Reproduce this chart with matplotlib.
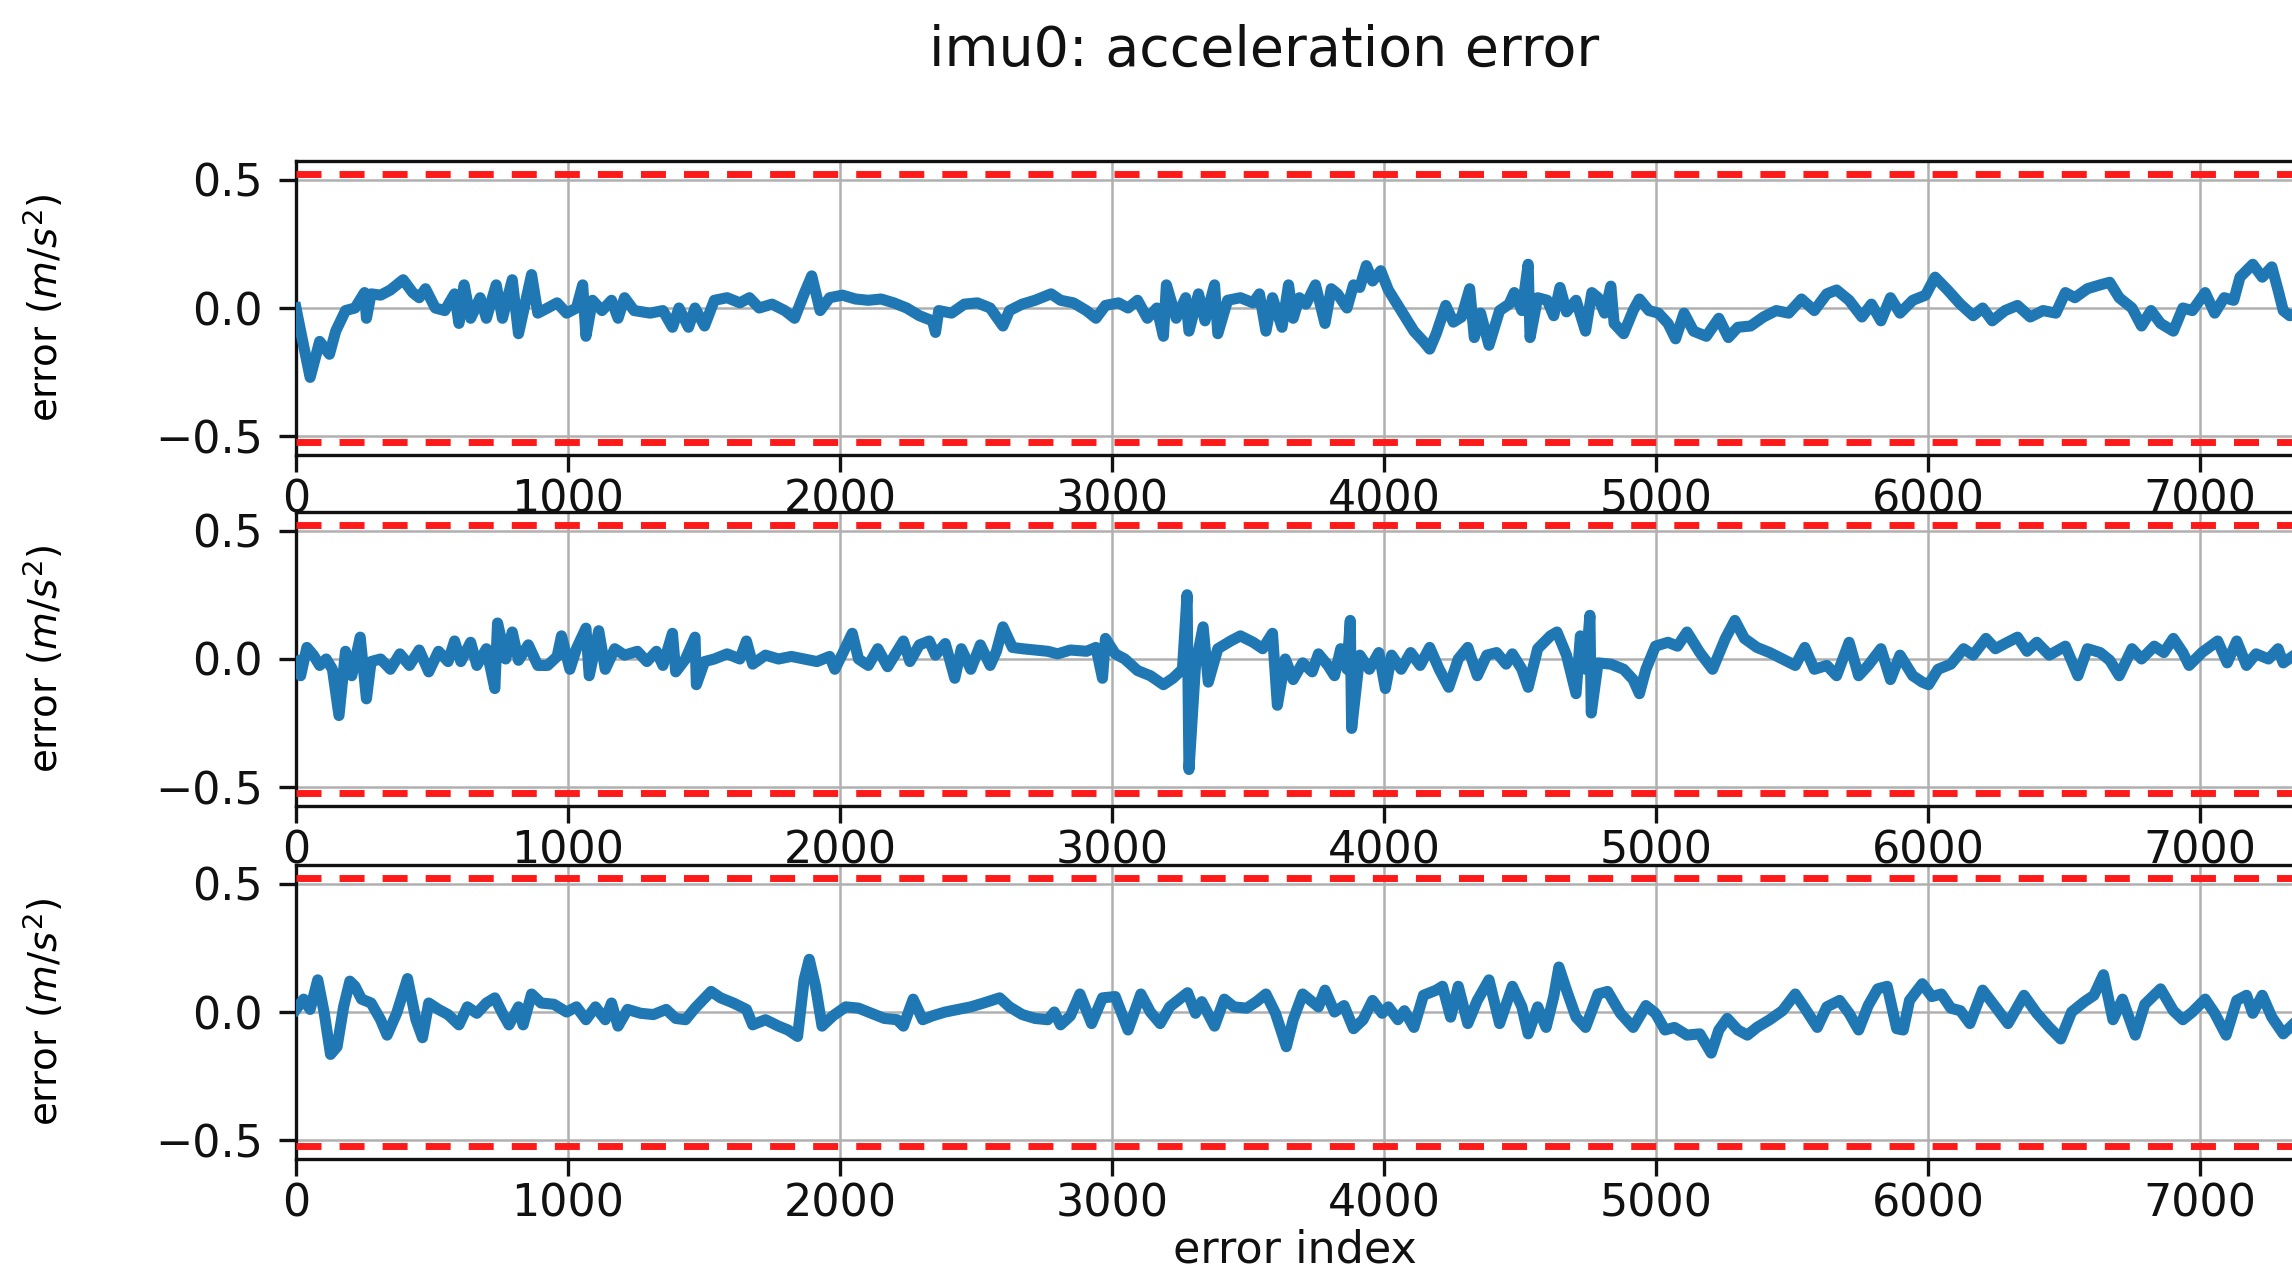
import matplotlib
matplotlib.use("Agg")
import matplotlib.pyplot as plt

# ---------------- data ----------------
bound = 0.52  # 3-sigma bound drawn as red dashed lines

idx_x = [0, 17, 52, 87, 123, 146, 182, 217, 252, 259, 276, 311, 347, 394, 429, 453, 476, 512, 547, 583,
         599, 618, 642, 677, 700, 736, 759, 795, 818, 842, 866, 889, 925, 960, 995, 1031, 1054, 1066, 1090, 1125,
         1160, 1184, 1208, 1243, 1302, 1349, 1384, 1408, 1443, 1467, 1502, 1538, 1585, 1632, 1667, 1703, 1750, 1797, 1833, 1868,
         1896, 1927, 1962, 2009, 2057, 2104, 2151, 2198, 2245, 2292, 2340, 2351, 2363, 2410, 2457, 2505, 2552, 2599, 2623, 2670,
         2717, 2776, 2811, 2858, 2906, 2941, 2976, 3024, 3059, 3094, 3130, 3165, 3189, 3200, 3236, 3271, 3283, 3318, 3342, 3377,
         3389, 3425, 3472, 3519, 3542, 3566, 3590, 3625, 3649,
         3666, 3689, 3713, 3748, 3783, 3806, 3829, 3864, 3888, 3911, 3935, 3958, 3988, 4016, 4063, 4110, 4145, 4168, 4192, 4227,
         4255, 4285, 4315, 4332, 4355, 4386, 4425, 4460, 4479, 4507, 4530, 4537, 4565, 4600, 4624, 4647, 4671, 4706, 4741, 4764,
         4787, 4811, 4834, 4846, 4881, 4916, 4939, 4974, 5009, 5044, 5072, 5103, 5138, 5185, 5231, 5266, 5301, 5348, 5395, 5442,
         5488, 5535, 5582, 5628, 5664, 5710, 5757, 5792, 5827, 5862, 5897, 5944, 5991, 6026, 6072, 6119, 6166, 6201, 6236, 6283,
         6329, 6376, 6423, 6470, 6505, 6540, 6586, 6633, 6668, 6703, 6750, 6785, 6820, 6855, 6902, 6937, 6972, 7019, 7054, 7089,
         7124, 7147, 7194, 7229, 7264, 7287, 7306, 7330, 7360]
err_x = [0.0, -0.09, -0.27, -0.13, -0.18, -0.09, -0.01, 0.0, 0.06, -0.04, 0.055, 0.05, 0.07, 0.11, 0.06, 0.04, 0.075, 0.0, -0.01, 0.055,
         -0.06, 0.09, -0.04, 0.04, -0.04, 0.09, -0.04, 0.11, -0.10, 0.015, 0.13, -0.02, 0.0, 0.02, -0.02, 0.0, 0.09, -0.11, 0.03, -0.01,
         0.03, -0.04, 0.04, -0.01, -0.02, -0.01, -0.075, 0.0, -0.075, 0.0, -0.07, 0.03, 0.04, 0.02, 0.04, 0.0, 0.015, -0.01, -0.04, 0.055,
         0.125, -0.01, 0.04, 0.05, 0.035, 0.03, 0.035, 0.02, 0.0, -0.03, -0.05, -0.095, -0.01, -0.02, 0.015, 0.02, 0.0, -0.07, -0.01, 0.015,
         0.03, 0.055, 0.03, 0.02, -0.01, -0.04, 0.01, 0.02, 0.0, 0.03, -0.04, 0.0, -0.11, 0.09, -0.04, 0.04, -0.09, 0.055, -0.05, 0.09,
         -0.10, 0.03, 0.04, 0.02, 0.055, -0.09, 0.04, -0.075, 0.09,
         -0.04, 0.04, 0.015, 0.09, -0.06, 0.075, 0.055, 0.0, 0.09, 0.08, 0.165, 0.105, 0.145, 0.07, -0.01, -0.09, -0.13, -0.16, -0.10, 0.01,
         -0.055, -0.035, 0.075, -0.115, -0.02, -0.145, -0.01, 0.015, 0.06, -0.01, 0.17, -0.115, 0.04, 0.03, -0.03, 0.08, -0.015, 0.03, -0.09, 0.06,
         0.04, -0.02, 0.085, -0.06, -0.10, -0.01, 0.035, -0.01, -0.02, -0.06, -0.12, -0.02, -0.09, -0.11, -0.04, -0.115, -0.075, -0.07, -0.035, -0.01,
         -0.02, 0.035, -0.01, 0.055, 0.07, 0.03, -0.035, 0.015, -0.05, 0.04, -0.02, 0.03, 0.05, 0.12, 0.07, 0.015, -0.03, 0.0, -0.05, -0.01,
         0.01, -0.035, -0.01, -0.02, 0.06, 0.04, 0.075, 0.09, 0.10, 0.04, 0.0, -0.07, -0.01, -0.06, -0.09, 0.0, -0.01, 0.06, -0.02, 0.04,
         0.03, 0.12, 0.17, 0.12, 0.16, 0.07, -0.01, -0.03, -0.02]

idx_y = [0, 17, 40, 64, 87, 111, 134, 158, 182, 205, 236, 259, 276, 311, 347, 382, 417, 453, 488, 524,
         559, 583, 606, 642, 665, 700, 731, 741, 771, 795, 818, 854, 889, 925, 960, 976, 1007, 1031, 1066, 1078,
         1113, 1137, 1172, 1208, 1255, 1290, 1325, 1349, 1384, 1396, 1432, 1467, 1472, 1502, 1538, 1585, 1632, 1656, 1679, 1726,
         1774, 1821, 1868, 1915, 1962, 1981, 2009, 2045, 2068, 2104, 2139, 2175, 2210, 2233, 2257, 2292, 2328, 2351, 2387, 2422,
         2446, 2481, 2516, 2552, 2575, 2599, 2634, 2670, 2717, 2764, 2800, 2847, 2906, 2941, 2965, 2976, 3012, 3047, 3094, 3141,
         3189, 3224, 3259, 3276, 3283, 3307, 3335, 3354, 3389, 3436, 3472, 3519, 3554, 3590, 3608, 3637,
         3666, 3701, 3736, 3759, 3794, 3818, 3841, 3864, 3876, 3881, 3911, 3946, 3981, 4005, 4028, 4063, 4098, 4133, 4168, 4203,
         4238, 4273, 4308, 4343, 4378, 4414, 4449, 4472, 4507, 4530, 4565, 4612, 4636, 4671, 4706, 4722, 4741, 4757, 4762, 4787,
         4834, 4881, 4916, 4939, 4963, 4998, 5044, 5079, 5114, 5161, 5208, 5255, 5290, 5325, 5371, 5418, 5465, 5512, 5547, 5582,
         5628, 5664, 5710, 5745, 5780, 5827, 5862, 5897, 5944, 5979, 6002, 6037, 6084, 6131, 6166, 6213, 6248, 6283, 6329, 6364,
         6400, 6446, 6505, 6551, 6586, 6633, 6668, 6703, 6750, 6785, 6832, 6867, 6902, 6937, 6960, 7007, 7065, 7100, 7135, 7171,
         7206, 7252, 7287, 7306, 7340]
err_y = [-0.01, -0.065, 0.045, 0.015, -0.025, 0.0, -0.04, -0.22, 0.03, -0.065, 0.085, -0.155, -0.01, 0.0, -0.04, 0.02, -0.025, 0.035, -0.05, 0.03,
         -0.01, 0.07, -0.01, 0.065, -0.025, 0.04, -0.115, 0.14, 0.0, 0.105, -0.005, 0.055, -0.025, -0.025, 0.01, 0.09, -0.04, 0.04, 0.12, -0.065,
         0.11, -0.04, 0.04, 0.015, 0.03, -0.01, 0.03, -0.025, 0.10, -0.05, 0.0, 0.085, -0.10, -0.01, 0.0, 0.02, 0.0, 0.07, -0.02, 0.015,
         0.0, 0.01, 0.0, -0.01, 0.01, -0.04, 0.02, 0.10, 0.0, -0.025, 0.04, -0.03, 0.03, 0.07, -0.01, 0.055, 0.07, 0.015, 0.06, -0.075,
         0.04, -0.04, 0.055, -0.025, 0.03, 0.125, 0.045, 0.04, 0.035, 0.03, 0.02, 0.035, 0.03, 0.045, -0.075, 0.08, 0.02, 0.0, -0.045, -0.065,
         -0.10, -0.075, -0.04, 0.25, -0.43, -0.025, 0.125, -0.09, 0.04, 0.07, 0.09, 0.065, 0.04, 0.10, -0.18, 0.0,
         -0.08, -0.015, -0.05, 0.02, -0.025, -0.065, 0.04, -0.04, 0.15, -0.27, 0.015, -0.04, 0.025, -0.115, 0.015, -0.04, 0.025, -0.025, 0.045, -0.04,
         -0.11, 0.0, 0.045, -0.065, 0.015, 0.025, -0.02, 0.02, -0.04, -0.11, 0.04, 0.09, 0.105, 0.015, -0.135, 0.09, -0.04, 0.17, -0.21, -0.015,
         -0.02, -0.04, -0.08, -0.135, -0.04, 0.05, 0.065, 0.05, 0.105, 0.025, -0.04, 0.08, 0.15, 0.08, 0.045, 0.025, 0.0, -0.025, 0.045, -0.04,
         -0.025, -0.065, 0.065, -0.065, -0.025, 0.04, -0.08, 0.015, -0.065, -0.09, -0.10, -0.04, -0.02, 0.04, 0.015, 0.08, 0.04, 0.06, 0.085, 0.03,
         0.065, 0.015, 0.05, -0.065, 0.04, 0.025, -0.005, -0.065, 0.04, 0.0, 0.05, 0.025, 0.08, 0.025, -0.025, 0.025, 0.07, -0.015, 0.07, -0.025,
         0.02, 0.0, 0.04, -0.015, 0.01]

idx_z = [0, 28, 52, 80, 104, 127, 151, 175, 198, 217, 241, 276, 311, 335, 370, 410, 441, 465, 488, 524,
         559, 599, 630, 665, 700, 731, 759, 783, 818, 835, 866, 901, 948, 995, 1031, 1066, 1101, 1137, 1160, 1184,
         1219, 1267, 1314, 1361, 1396, 1432, 1467, 1526, 1561, 1608, 1656, 1679, 1726, 1774, 1809, 1844, 1868, 1887, 1910, 1934,
         1974, 2021, 2068, 2116, 2163, 2210, 2233, 2269, 2304, 2340, 2387, 2434, 2481, 2528, 2587, 2623, 2670, 2717, 2764, 2788,
         2811, 2847, 2882, 2925, 2965, 3012, 3059, 3106, 3141, 3177, 3212, 3248, 3278, 3307, 3330, 3377, 3413, 3448, 3495, 3531,
         3566, 3601, 3641,
         3666, 3701, 3736, 3759, 3783, 3818, 3853, 3888, 3923, 3958, 3993, 4016, 4051, 4075, 4110, 4145, 4192, 4215, 4245, 4273,
         4308, 4343, 4386, 4425, 4472, 4507, 4530, 4565, 4596, 4624, 4643, 4671, 4706, 4741, 4787, 4822, 4869, 4916, 4963, 4998,
         5033, 5068, 5114, 5161, 5203, 5231, 5262, 5301, 5336, 5371, 5418, 5465, 5512, 5547, 5593, 5628, 5675, 5710, 5745, 5780,
         5815, 5850, 5885, 5909, 5932, 5979, 6014, 6049, 6084, 6119, 6154, 6201, 6248, 6294, 6353, 6400, 6446, 6488, 6528, 6575,
         6610, 6645, 6680, 6715, 6762, 6797, 6855, 6902, 6937, 6972, 7019, 7054, 7096, 7135, 7171, 7194, 7229, 7264, 7306, 7340]
err_z = [0.01, 0.05, 0.01, 0.125, -0.005, -0.165, -0.135, 0.02, 0.12, 0.10, 0.05, 0.035, -0.03, -0.09, -0.005, 0.13, -0.03, -0.10, 0.035, 0.01,
         -0.01, -0.05, 0.02, -0.005, 0.035, 0.055, -0.005, -0.05, 0.02, -0.05, 0.07, 0.035, 0.03, 0.0, 0.02, -0.03, 0.02, -0.03, 0.035, -0.055,
         0.01, -0.005, -0.01, 0.01, -0.025, -0.03, 0.015, 0.08, 0.055, 0.035, 0.01, -0.05, -0.03, -0.055, -0.07, -0.095, 0.125, 0.205, 0.10, -0.055,
         -0.015, 0.02, 0.015, -0.005, -0.025, -0.03, -0.055, 0.05, -0.03, -0.015, 0.0, 0.01, 0.02, 0.035, 0.055, 0.02, -0.01, -0.025, -0.03, 0.0,
         -0.05, -0.015, 0.07, -0.045, 0.055, 0.06, -0.07, 0.07, 0.0, -0.045, 0.02, 0.05, 0.075, -0.005, 0.04, -0.055, 0.05, 0.02, 0.015, 0.04,
         0.07, -0.005, -0.135,
         -0.03, 0.07, 0.04, 0.02, 0.085, 0.0, 0.025, -0.065, -0.03, 0.045, -0.005, 0.02, -0.03, 0.005, -0.06, 0.065, 0.085, 0.10, -0.02, 0.10,
         -0.045, 0.045, 0.125, -0.045, 0.10, 0.02, -0.085, 0.02, -0.06, 0.06, 0.175, 0.085, -0.02, -0.06, 0.07, 0.08, -0.005, -0.06, 0.025, -0.005,
         -0.07, -0.06, -0.09, -0.085, -0.16, -0.07, -0.025, -0.07, -0.09, -0.06, -0.03, 0.005, 0.07, 0.015, -0.06, 0.02, 0.045, -0.005, -0.07, 0.025,
         0.09, 0.10, -0.065, -0.07, 0.045, 0.11, 0.06, 0.07, 0.015, 0.005, -0.045, 0.085, 0.02, -0.045, 0.065, -0.005, -0.06, -0.105, 0.0, 0.04,
         0.065, 0.145, -0.03, 0.05, -0.09, 0.03, 0.09, 0.005, -0.03, 0.0, 0.05, -0.005, -0.09, 0.045, 0.065, -0.005, 0.065, -0.02, -0.085, -0.05]

xticks = [0, 1000, 2000, 3000, 4000, 5000, 6000, 7000]
yticks = [-0.5, 0.0, 0.5]
ytick_labels = ["\u22120.5", "0.0", "0.5"]
n_errors = 7700
title = "imu0: acceleration error"
ylabel = r"error ($m/s^2$)"
xlabel = "error index"

series = [(idx_x, err_x), (idx_y, err_y), (idx_z, err_z)]

# ---------------- figure ----------------
W, H = 2292, 1271
fig = plt.figure(figsize=(W / 100, H / 100), dpi=100)

left = 296 / W
xscale_px = 0.272  # pixels per index unit
width = n_errors * xscale_px / W
bottoms = [1 - 455 / H, 1 - 806 / H, 1 - 1159 / H]
height = 294 / H

tick_fs = 32
for i, (ix, ev) in enumerate(series):
    ax = fig.add_axes([left, bottoms[i], width, height])
    ax.plot(ix, ev, color="#1f77b4", lw=8, solid_joinstyle="round", zorder=3)
    for b in (bound, -bound):
        ax.plot([0, n_errors], [b, b], color="#ff1a1a", lw=5,
                linestyle=(0, (3.6, 2.6)), zorder=4)
    ax.set_xlim(0, n_errors)
    ax.set_ylim(-bound * 1.1, bound * 1.1)
    ax.set_xticks(xticks)
    ax.set_yticks(yticks)
    ax.set_yticklabels(ytick_labels)
    ax.grid(True, color="#b0b0b0", lw=1.8)
    ax.set_axisbelow(True)
    for s in ax.spines.values():
        s.set_linewidth(2.4)
        s.set_color("#111111")
    ax.tick_params(axis="both", length=12, width=2.4, labelsize=tick_fs, colors="#111111")
    ax.tick_params(axis="y", pad=12)
    ax.tick_params(axis="x", pad=5)
    ax.set_ylabel(ylabel, fontsize=28)
    bb = ax.get_position()
    ax.yaxis.set_label_coords((66 - 296) / (bb.width * W), 0.5)

fig.text(1264 / W, 1 - 51 / H, title, ha="center", va="center", fontsize=40, color="#111111")
fig.text(1295 / W, 1 - 1250 / H, xlabel, ha="center", va="center", fontsize=32, color="#111111")

fig.savefig("out.png", dpi=100, facecolor="white")
